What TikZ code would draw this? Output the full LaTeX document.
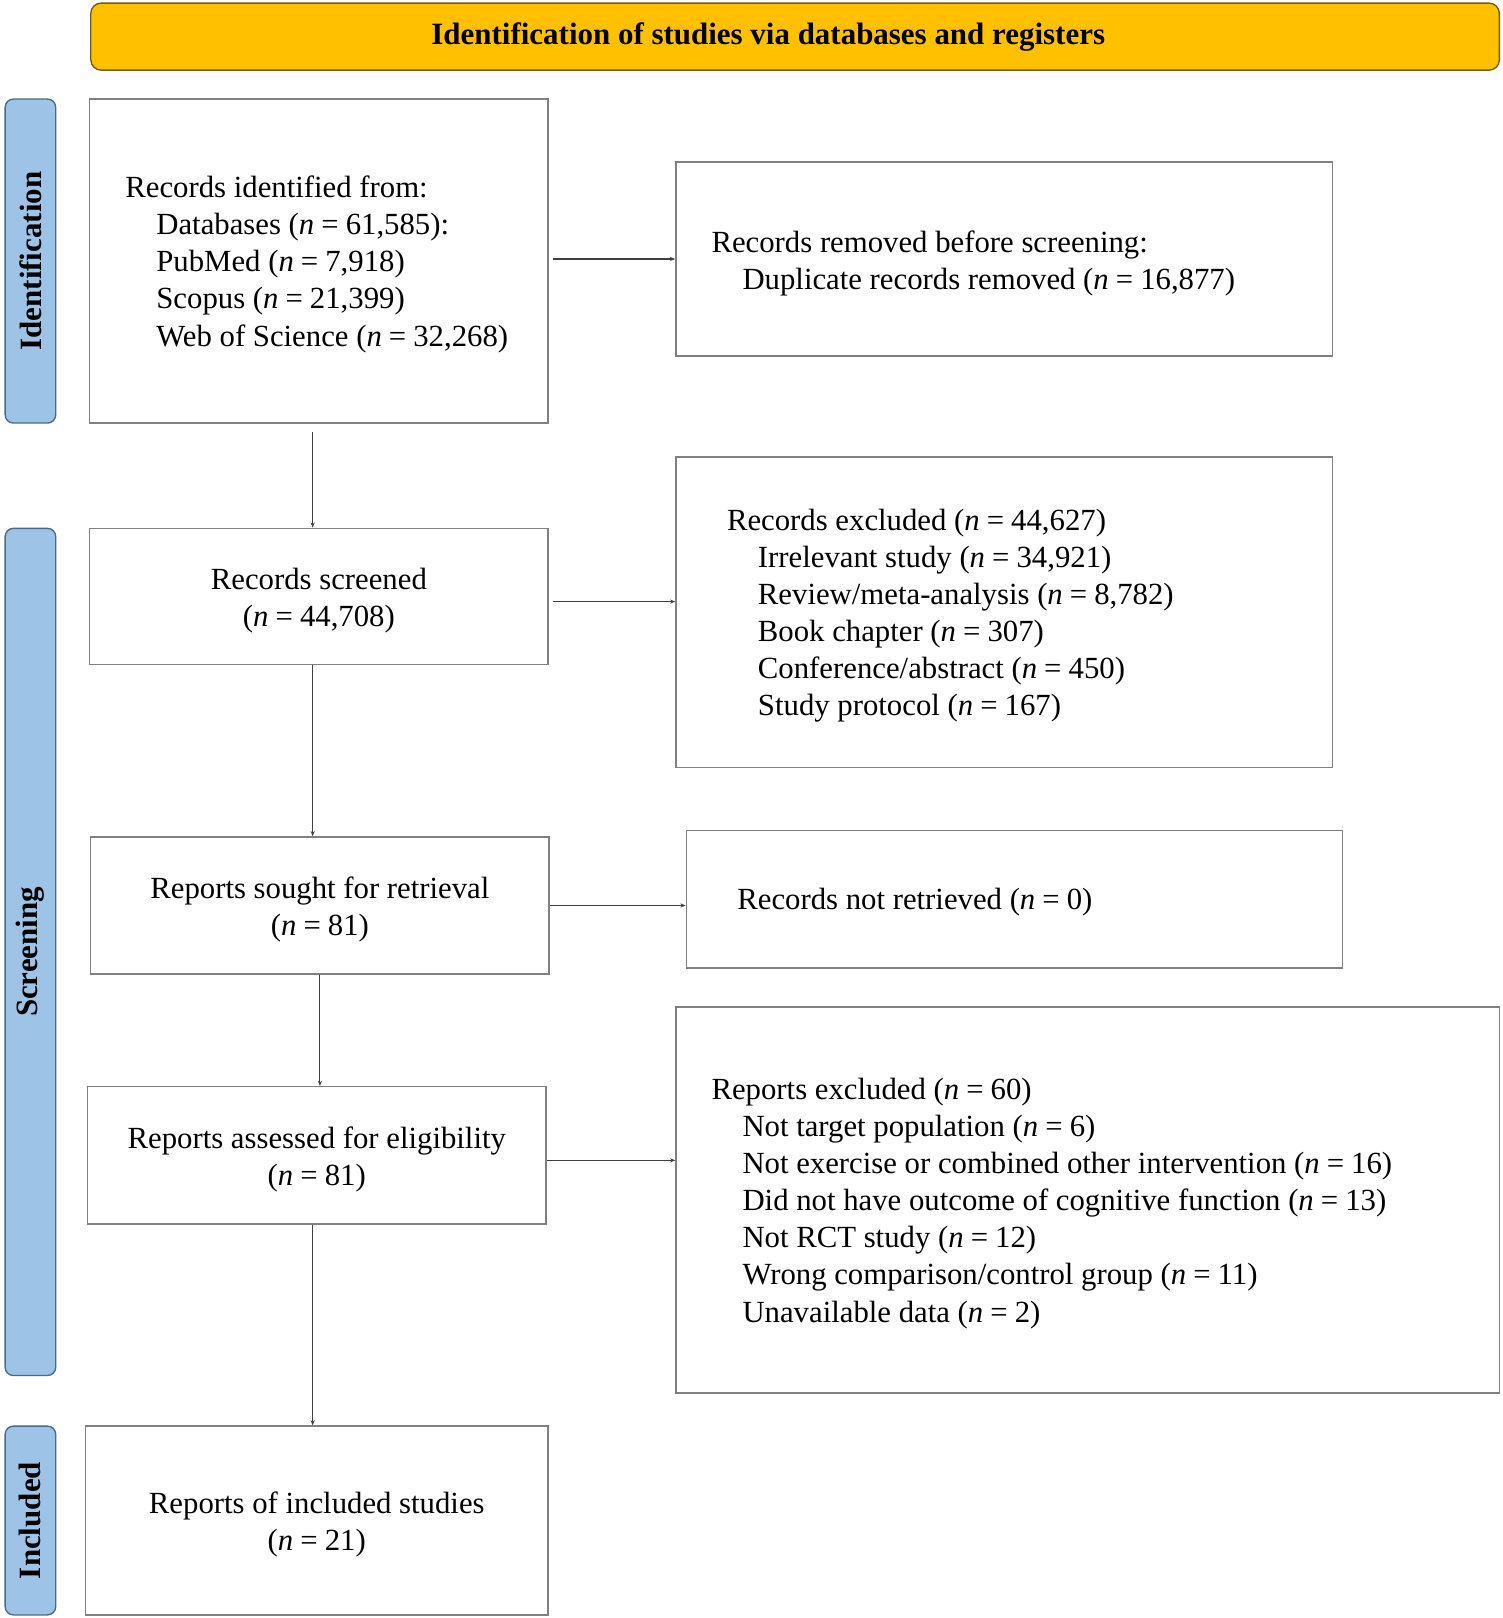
\documentclass[tikz,border=0pt]{standalone}
\usepackage{fontspec}
\setmainfont{Liberation Serif}
\usetikzlibrary{arrows.meta,calc}
\definecolor{hdrgold}{HTML}{FFC000}
\definecolor{hdrline}{HTML}{6F5A1A}
\definecolor{sideblue}{HTML}{9DC3E6}
\definecolor{sideline}{HTML}{4A6A8A}
\definecolor{boxline}{HTML}{808080}
\definecolor{arrline}{HTML}{404040}
\tikzset{
  txt/.style={font=\fontsize{29.8}{36}\selectfont, inner sep=0pt},
  ltxt/.style={txt, align=left, anchor=west},
  ctxt/.style={txt, align=center},
  box/.style={draw=boxline, line width=1.3pt, rectangle, inner sep=0pt},
  side/.style={draw=sideline, fill=sideblue, line width=1.3pt, rounded corners=8pt,
    rotate=90, inner sep=0pt, font=\fontsize{30}{36}\selectfont\bfseries, align=center},
  hdr/.style={draw=hdrline, fill=hdrgold, line width=1.3pt, rounded corners=10pt,
    inner sep=0pt, font=\fontsize{30}{36}\selectfont\bfseries, align=center},
  arr/.style={draw=arrline, line width=1.1pt, -{Stealth[length=5pt,width=4pt]}}
}
\newcommand{\ind}{\hspace*{30pt}}
\newcommand{\nn}{\textit{n}\hspace{0.23em}=\hspace{0.23em}}
\begin{document}
\begin{tikzpicture}[x=1pt,y=-1pt]
\useasboundingbox (0,0) rectangle (1456,1568);
% header
\node[hdr, minimum width=1365pt, minimum height=65pt] (hdr) at (770.5,35.5) {Identification of studies via databases and registers\hspace*{52pt}};
% side bars
\node[side, minimum width=314pt, minimum height=49pt] (sid) at (29.5,253) {Identification};
\node[side, minimum width=821pt, minimum height=49pt] (sscr) at (29.5,922.5) {Screening};
\node[side, minimum width=183pt, minimum height=49pt] (sinc) at (29.5,1473.5) {Included};
% boxes
\node[box, minimum width=444pt, minimum height=314pt] (b1) at (309,253) {};
\node[box, minimum width=636pt, minimum height=188pt] (b2) at (973,251) {};
\node[box, minimum width=444pt, minimum height=132pt] (b3) at (309,578) {};
\node[box, minimum width=636pt, minimum height=301pt] (b4) at (973,593.5) {};
\node[box, minimum width=444pt, minimum height=133pt] (b5) at (310,877.5) {};
\node[box, minimum width=636pt, minimum height=133pt] (b6) at (983,871.5) {};
\node[box, minimum width=444pt, minimum height=133pt] (b7) at (307,1119.5) {};
\node[box, minimum width=798pt, minimum height=374pt] (b8) at (1054,1163) {};
\node[box, minimum width=448pt, minimum height=183pt] (b9) at (307,1473.5) {};
% texts
\node[ltxt] (t1) at ([xshift=35pt,yshift=-3pt]b1.west)
 {Records identified from:\\ \ind Databases (\nn 61,585):\\ \ind PubMed (\nn 7,918)\\ \ind Scopus (\nn 21,399)\\ \ind Web of Science (\nn 32,268)};
\node[ltxt] (t2) at ([xshift=35pt,yshift=-4pt]b2.west)
 {Records removed before screening:\\ \ind Duplicate records removed (\nn 16,877)};
\node[ctxt] (t3) at ([yshift=-4pt]b3.center)
 {Records screened\\ (\nn 44,708)};
\node[ltxt] (t4) at ([xshift=50pt,yshift=-3pt]b4.west)
 {Records excluded (\nn 44,627)\\ \ind Irrelevant study (\nn 34,921)\\ \ind Review/meta-analysis (\nn 8,782)\\ \ind Book chapter (\nn 307)\\ \ind Conference/abstract (\nn 450)\\ \ind Study protocol (\nn 167)};
\node[ctxt] (t5) at ([yshift=-4pt]b5.center)
 {Reports sought for retrieval\\ (\nn 81)};
\node[ltxt] (t6) at ([xshift=50pt,yshift=-3pt]b6.west)
 {Records not retrieved (\nn 0)};
\node[ctxt] (t7) at ([yshift=-4pt]b7.center)
 {Reports assessed for eligibility\\ (\nn 81)};
\node[ltxt] (t8) at ([xshift=35pt,yshift=-3pt]b8.west)
 {Reports excluded (\nn 60)\\ \ind Not target population (\nn 6)\\ \ind Not exercise or combined other intervention (\nn 16)\\ \ind Did not have outcome of cognitive function (\nn 13)\\ \ind Not RCT study (\nn 12)\\ \ind Wrong comparison/control group (\nn 11)\\ \ind Unavailable data (\nn 2)};
\node[ctxt] (t9) at ([yshift=-4pt]b9.center)
 {Reports of included studies\\ (\nn 21)};
% connectors
\draw[arr, shorten <=4pt] (b1.east |- b2.west) -- (b2.west);
\draw[arr, shorten <=8pt] ([xshift=-6pt]b1.south) -- ([xshift=-6pt]b1.south |- b3.north);
\draw[arr, shorten <=4pt] ([yshift=-5pt]b3.east) -- ([yshift=-5pt]b3.east -| b4.west);
\draw[arr] ([xshift=-6pt]b3.south) -- ([xshift=-6pt]b3.south |- b5.north);
\draw[arr] (b5.east) -- (b5.east -| b6.west);
\draw[arr] (b5.south) -- (b5.south |- b7.north);
\draw[arr] ([yshift=-5pt]b7.east) -- ([yshift=-5pt]b7.east -| b8.west);
\draw[arr] ([xshift=-4pt]b7.south) -- ([xshift=-4pt]b7.south |- b9.north);
\end{tikzpicture}
\end{document}
